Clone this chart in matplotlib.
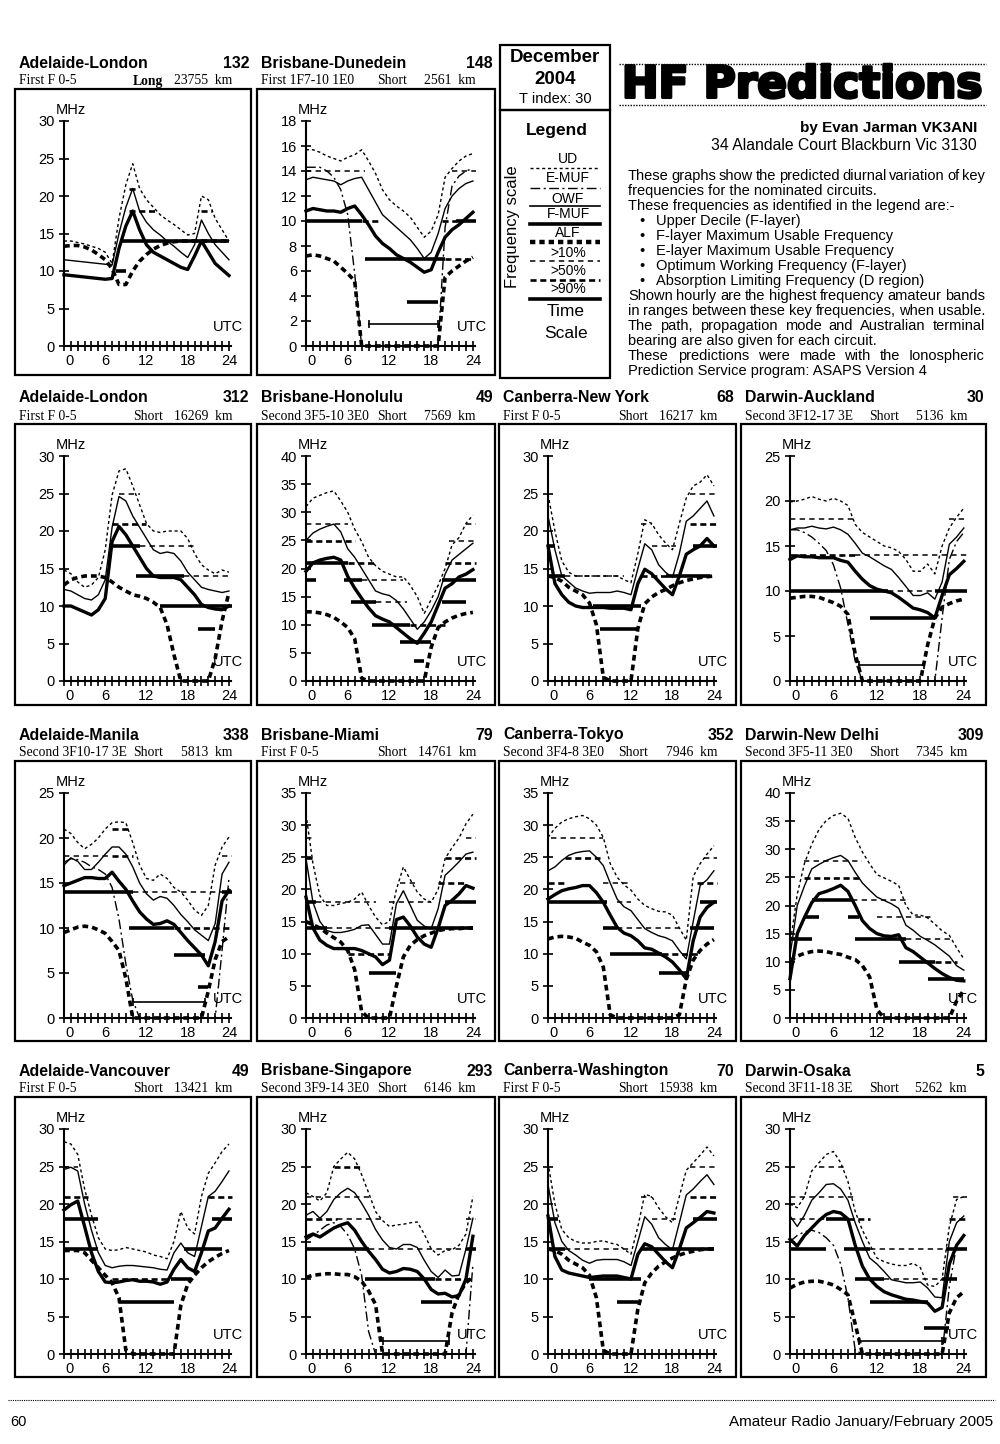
import matplotlib
matplotlib.use('Agg')
import matplotlib.pyplot as plt
from matplotlib.patches import Rectangle
from matplotlib.lines import Line2D
import matplotlib.patheffects as pe

plt.rcParams['font.family'] = ['Liberation Sans', 'DejaVu Sans']

# ---- chart metadata ----
titles = ['Adelaide-London', 'Brisbane-Dunedein', 'Adelaide-London', 'Brisbane-Honolulu',
          'Canberra-New York', 'Darwin-Auckland', 'Adelaide-Manila', 'Brisbane-Miami',
          'Canberra-Tokyo', 'Darwin-New Delhi', 'Adelaide-Vancouver', 'Brisbane-Singapore',
          'Canberra-Washington', 'Darwin-Osaka']
bearings = [132, 148, 312, 49, 68, 30, 338, 79, 352, 309, 49, 293, 70, 5]
modes = ['First F 0-5', 'First 1F7-10 1E0', 'First F 0-5', 'Second 3F5-10 3E0',
         'First F 0-5', 'Second 3F12-17 3E', 'Second 3F10-17 3E', 'First F 0-5',
         'Second 3F4-8 3E0', 'Second 3F5-11 3E0', 'First F 0-5', 'Second 3F9-14 3E0',
         'First F 0-5', 'Second 3F11-18 3E']
paths = ['Long'] + ['Short'] * 13
dists = [23755, 2561, 16269, 7569, 16217, 5136, 5813, 14761, 7946, 7345, 13421, 6146, 15938, 5262]
ymaxes = [30, 18, 30, 40, 30, 25, 25, 35, 35, 40, 30, 30, 30, 30]

hours = list(range(25))

# ---- curves (MHz, hourly 0..24) ----
c1_ud = [14.0,14.0,13.8,13.6,13.3,13.0,12.5,11.0,17.0,21.5,24.3,21.0,19.5,18.5,17.5,16.8,16.2,15.5,14.8,15.0,20.0,19.5,17.0,15.5,14.0]
c1_fmuf = [11.5,11.4,11.3,11.2,11.1,11.0,10.9,10.8,15.0,18.5,21.0,18.0,16.5,15.5,14.8,14.0,13.3,12.5,11.8,13.5,16.8,15.0,13.5,12.5,11.5]
c1_owf = [9.5,9.4,9.3,9.2,9.1,9.0,8.9,9.0,13.0,16.0,18.0,15.5,13.5,12.5,12.0,11.5,11.0,10.5,10.2,12.0,14.0,12.5,11.0,10.2,9.4]
c1_alf = [13.3,13.4,13.4,13.2,12.8,12.2,11.5,10.3,8.2,8.2,10.0,11.3,12.2,12.9,13.4,13.7,13.9,14.0,14.0,14.0,14.0,14.0,14.0,14.0,14.0]
c1_bands = [(14,8.5,24,90),(10,7.5,9,90),(18,9.5,13.5,50),(18,20,21.5,50),(21,9.5,10.5,50)]

c2_ud = [15.7,15.7,15.5,15.2,15.0,14.8,15.1,15.3,15.7,14.8,13.8,12.5,11.7,11.2,10.8,10.3,9.5,8.7,9.2,10.5,13.5,14.2,14.8,15.2,15.4]
c2_emuf = [14.3,14.3,14.3,14.0,13.5,12.5,10.5,5.8,0,0,0,0,0,0,0,0,0,0,0,0,9.5,12.8,13.6,14.0,14.2]
c2_fmuf = [13.3,13.5,13.4,13.3,13.2,12.9,13.2,13.4,13.5,12.5,11.5,10.5,10.0,9.5,9.0,8.5,7.8,7.0,7.5,9.0,11.0,12.0,12.6,13.0,13.2]
c2_owf = [10.8,11.0,10.9,10.8,10.8,10.7,11.0,11.2,10.5,9.7,8.8,8.2,7.8,7.3,7.0,6.7,6.3,5.9,6.1,7.5,8.7,9.3,9.7,10.2,10.7]
c2_alf = [7.2,7.3,7.2,7.0,6.8,6.3,5.8,5.2,0,0,0,0,0,0,0,0,0,0,0,0,5.5,6.0,6.4,6.8,7.1]
c2_bands = [(14,0,8.5,10),(14,21,24.5,10),(10,0,8,90),(10,8,10.5,50),(10,19.5,21.5,50),(10,21.5,24.5,90),
            (7,8.5,20,90),(7,20,24,50),(3.5,14.5,19,90),(1.8,9,19,0)]

c3_ud = [14.8,14.3,13.2,12.5,12.8,13.8,17.5,24.8,28.0,28.3,26.0,23.5,21.0,20.0,19.8,20.0,20.0,20.0,19.0,17.0,15.5,14.8,14.3,14.8,14.5]
c3_fmuf = [12.2,12.0,11.5,11.0,10.8,11.5,13.5,20.5,24.6,24.0,22.0,20.5,19.0,17.5,17.0,17.2,17.0,16.0,14.5,13.5,12.5,12.2,12.0,11.8,12.0]
c3_owf = [10.0,10.0,9.6,9.2,8.8,9.5,11.0,18.6,20.6,19.5,18.0,16.5,15.0,14.0,13.8,13.8,13.8,13.5,12.5,11.5,10.2,9.8,9.6,9.5,10.0]
c3_alf = [12.8,13.5,13.8,14.0,14.0,14.0,13.8,13.2,12.5,12.0,11.5,11.3,11.0,10.5,9.8,7.5,3.5,0,0,0,0,0,3.0,8.0,11.8]
c3_bands = [(24.9,8,11,10),(21,7,12,50),(18,6.5,11,90),(18,11,19,10),(14,10.5,17.5,90),(14,17.5,24.5,10),
            (10,14,24.5,90),(7,19.5,22,90)]

c4_ud = [31.0,32.5,33.0,33.5,33.8,32.0,30.0,27.0,24.8,22.0,20.5,19.5,19.0,18.5,18.5,17.0,15.0,12.0,14.5,17.0,20.0,24.2,25.5,28.0,29.5]
c4_fmuf = [25.0,26.3,27.0,27.5,27.9,26.5,23.5,22.0,20.0,18.0,16.0,15.5,15.2,14.3,12.8,11.0,9.2,10.5,12.5,15.0,19.0,21.5,22.5,23.5,24.5]
c4_owf = [19.5,21.0,21.5,21.8,22.0,21.5,18.6,16.5,14.7,13.0,11.6,11.0,10.5,9.5,8.5,7.5,6.7,8.5,10.5,13.5,16.5,17.3,18.5,19.0,19.8]
c4_alf = [12.3,12.3,12.1,11.8,11.3,10.5,9.5,7.5,0.5,0,0,0,0,0,0,0,0,0,6.0,9.5,10.5,11.2,11.7,12.0,12.2]
c4_bands = [(28,0,6,10),(28,23,24.5,10),(24.9,0,7,50),(24.9,20.5,24.5,10),(21,0,6,90),(21,6,10,50),
            (21,20,24.5,50),(18,0,1.5,90),(18,5.5,8,90),(18,8,14,10),(18,19.5,24.5,90),(14,6.5,10,90),
            (14,10,14.5,10),(14,19.5,23,90),(10,9.5,15,90),(10,15,20,50),(7,13.5,18,90),(3.5,15.5,17,90)]

c5_ud = [24.9,20.0,16.0,14.5,14.0,14.0,14.0,14.0,14.0,14.0,14.0,13.5,13.1,17.0,21.5,21.0,19.5,18.4,17.5,21.0,24.4,26.0,26.5,27.5,26.0]
c5_fmuf = [22.0,17.5,14.0,13.2,12.4,12.0,11.7,11.8,11.8,11.8,12.0,11.8,11.5,15.0,18.3,17.5,15.5,14.5,13.8,17.0,21.3,22.0,23.0,24.0,22.0]
c5_owf = [18.0,13.0,11.5,10.5,10.0,9.8,9.8,9.8,9.8,9.7,9.7,9.7,9.5,13.0,14.9,14.3,13.3,12.3,11.5,14.0,16.9,17.5,18.0,19.0,18.0]
c5_alf = [14.0,13.8,13.3,12.5,12.0,11.5,10.4,7.5,0.5,0,0,0,0,7.0,10.3,11.2,11.8,12.2,12.7,13.1,13.4,13.6,13.8,13.9,14.0]
c5_bands = [(24.9,20.5,24.5,10),(21,20.5,24.5,50),(21,13.5,15,10),(18,0,1,90),(18,15,18.5,10),(18,21,24.5,90),
            (14,0,2.5,90),(14,2.5,11,10),(14,13.5,17,50),(14,17,23.5,90),(10,6.5,13.5,90),(7,7.5,13,90)]

c6_ud = [19.9,20.0,20.2,20.5,20.2,20.0,20.3,20.0,19.5,17.4,16.5,16.0,15.5,15.0,14.8,14.4,13.5,12.2,12.2,13.0,11.9,15.0,17.0,18.2,19.2]
c6_emuf = [16.8,16.8,16.5,16.0,15.3,14.5,12.9,10.3,6.3,2.2,0,0,0,0,0,0,0,0,0,0,0,7.0,13.5,15.5,16.5]
c6_fmuf = [16.8,17.0,17.0,17.2,17.0,16.9,17.1,16.8,16.3,15.3,14.2,13.8,13.3,12.8,12.4,11.5,10.5,9.5,9.5,9.8,9.1,11.0,15.2,16.0,17.0]
c6_owf = [13.5,13.9,13.8,13.8,13.7,13.7,13.7,13.4,13.2,12.2,11.3,10.6,10.2,10.0,9.8,9.3,8.7,8.1,7.9,7.6,7.0,9.5,11.8,12.5,13.3]
c6_alf = [9.2,9.3,9.4,9.4,9.3,9.0,8.7,8.3,7.4,3.0,0,0,0,0,0,0,0,0,0,4.0,7.0,8.2,8.6,8.9,9.1]
c6_bands = [(18,0,9,10),(18,22,24.5,10),(14,0,9,50),(14,9,24.5,10),(10,0,13.5,90),(10,13.5,20,10),
            (10,20,24.5,90),(7,11,20,90),(1.8,9.5,18.5,0)]

c7_ud = [21.0,20.5,19.5,18.8,19.3,20.0,21.0,21.7,21.8,21.7,19.5,17.0,15.5,15.3,16.0,15.5,14.5,14.0,13.1,12.0,11.4,12.5,17.0,19.0,20.1]
c7_emuf = [17.3,17.7,17.6,17.3,16.8,16.5,16.0,14.5,11.0,6.0,2.0,0,0,0,0,0,0,0,0,0,0,0,0,7.5,15.5]
c7_fmuf = [17.0,17.8,17.4,16.5,16.5,17.3,18.2,19.0,19.0,18.2,16.8,15.0,13.8,13.1,13.5,13.3,12.5,11.5,10.7,9.8,9.2,8.6,10.5,16.0,17.3]
c7_owf = [14.7,15.0,15.3,15.6,15.6,15.5,15.5,16.2,15.2,14.3,13.0,11.8,11.0,10.4,10.5,10.8,10.4,9.5,8.6,7.8,7.0,5.8,8.5,13.0,14.2]
c7_alf = [9.5,9.8,10.1,10.2,10.1,9.8,9.4,8.5,7.5,4.4,0,0,0,0,0,0,0,0,0,0,0,3.0,6.5,8.5,9.0]
c7_bands = [(21,7,9.5,50),(18,0,7,10),(18,7,10,50),(18,23,24.5,10),(14,0,10,90),(14,10,23,10),(14,23,24.5,90),
            (10,9.5,16,90),(10,16,24.5,50),(7,16,20.5,90),(3.5,19.5,21,90),(1.8,10,20.5,0)]

c8_ud = [31.7,24.0,19.0,17.5,17.5,17.8,18.0,18.5,19.6,17.5,15.7,14.5,15.0,20.0,23.5,21.5,19.6,18.5,18.0,20.0,24.8,26.5,28.0,30.2,31.7]
c8_fmuf = [24.8,18.0,15.0,13.6,13.3,13.3,13.5,13.8,14.4,14.5,13.0,11.5,11.5,17.8,19.8,17.5,15.2,14.3,13.9,17.0,22.2,23.2,24.3,25.5,25.8]
c8_owf = [18.8,14.0,12.1,11.3,10.8,10.8,10.8,10.8,10.5,10.0,9.5,8.3,9.0,15.3,15.7,14.3,12.6,11.5,11.0,14.0,17.5,18.3,19.3,20.6,20.2]
c8_alf = [15.0,14.5,14.0,13.2,12.5,11.8,10.5,7.5,1.0,0,0,0,0,5.0,9.5,11.3,12.2,12.8,13.2,13.6,13.8,13.9,13.9,14.0,14.0]
c8_bands = [(28,0,1,10),(28,23,24.5,10),(24.9,0,1,50),(24.9,20,24.5,50),(21,19,23,50),(21,13.5,16,10),
            (18,0,1.5,90),(18,1.5,10,10),(18,12,18,10),(18,20,24.5,90),(14,0,3,90),(14,3,12,10),
            (14,12,24,90),(10,6,12,50),(7,9,13,90)]

c9_ud = [28.1,29.5,30.5,31.0,31.3,31.5,31.0,30.0,28.1,24.0,21.9,20.7,19.9,18.5,17.5,17.0,16.6,16.5,16.0,14.0,12.1,22.0,24.0,25.5,26.8]
c9_fmuf = [22.9,23.5,24.5,25.3,25.7,25.9,26.0,25.0,23.7,21.0,18.5,17.3,16.7,15.3,13.9,13.3,12.8,12.5,12.0,10.5,9.2,15.0,20.6,21.5,22.9]
c9_owf = [18.5,19.2,19.8,20.1,20.3,20.6,20.6,19.5,18.0,16.0,14.1,13.2,12.8,12.0,10.9,10.7,10.1,9.5,8.7,7.5,6.1,12.0,15.7,17.2,18.0]
c9_alf = [12.3,12.6,12.7,12.6,12.4,11.8,11.3,10.3,7.9,0.5,0,0,0,0,0,0,0,0,0,0.5,6.0,9.0,10.5,11.5,12.2]
c9_bands = [(28,0.5,8,10),(24.9,2.5,7.5,50),(24.9,22.5,24.5,10),(21,0,2.5,50),(21,8,12,10),(21,21.5,24.5,50),
            (18,0,8.5,90),(18,10,12,10),(18,22,24.5,90),(14,8,10,90),(14,10,19,10),(14,20.5,24,90),
            (10,9,16.5,90),(10,16.5,22,50),(7,16,20,90)]

c10_ud = [12.9,22.0,27.5,30.9,33.5,35.1,36.0,36.4,35.5,32.1,29.5,27.4,25.5,24.9,24.3,23.6,20.0,18.3,18.3,17.8,16.7,15.5,14.7,12.5,10.5]
c10_fmuf = [11.0,20.0,23.5,26.5,27.3,28.0,28.5,28.9,28.0,25.9,24.0,22.7,21.5,20.9,20.3,19.5,16.5,15.6,14.5,13.8,13.0,12.0,11.0,9.3,8.5]
c10_owf = [7.0,15.0,17.9,20.5,22.1,22.5,23.0,23.6,22.5,20.0,17.3,15.9,15.0,14.6,14.5,14.8,12.5,11.8,10.8,9.8,8.8,7.9,7.2,6.7,6.6]
c10_alf = [10.2,11.0,11.5,11.8,11.9,11.8,11.5,11.3,10.8,10.4,9.3,7.3,1.5,0,0,0,0,0,0,0,0,0,0,3.0,5.0]
c10_bands = [(28,2,10,10),(24.9,2,10,50),(21,3,8.5,90),(21,8.5,16,10),(18,2,4,90),(18,8,9.5,90),(18,12,19.5,10),
             (14,0,3,90),(14,9,16,90),(14,16,22.5,10),(10,15,20,90),(10,20,23,50),(7,19,24,90)]

c11_ud = [28.3,28.0,26.6,22.0,18.5,15.5,14.0,13.8,13.9,14.2,14.0,13.8,13.6,13.2,13.0,12.7,15.0,19.0,16.8,16.0,21.0,24.1,25.5,27.0,28.0]
c11_fmuf = [24.6,24.9,24.4,20.0,16.5,13.5,11.8,11.5,11.7,11.8,11.8,11.7,11.6,11.5,11.3,11.2,13.5,14.8,13.5,13.0,17.0,21.0,21.7,23.0,24.4]
c11_owf = [19.2,19.9,20.4,17.0,13.5,11.0,9.6,9.5,9.6,9.8,9.9,9.7,9.7,9.6,9.3,9.6,11.3,12.6,11.5,11.0,13.5,16.4,16.8,18.1,19.3]
c11_alf = [13.8,13.8,13.8,13.5,12.5,11.5,10.5,9.5,7.5,0.5,0,0,0,0,0,0,0,6.5,9.3,10.5,11.5,12.3,12.9,13.4,13.8]
c11_bands = [(24.9,0,2,10),(21,0,3.5,50),(21,21,24.5,50),(18,0,5,90),(18,21.5,24.5,90),(14,0,5,90),
             (14,17.5,23,90),(10,7,15.5,50),(10,15.5,18.5,90),(7,8,16,90)]

c12_ud = [21.5,21.0,20.4,21.5,25.0,26.0,26.9,26.0,23.9,21.5,19.0,17.8,17.0,17.2,17.3,17.5,17.6,16.0,14.0,13.2,13.8,13.9,14.5,16.0,21.0]
c12_emuf = [15.2,15.8,16.5,17.2,17.5,17.0,15.9,14.0,10.5,3.0,0,0,0,0,0,0,0,0,0,0,0,0,0,0,12.0]
c12_fmuf = [18.5,19.0,18.1,19.0,20.6,21.5,22.1,21.5,20.1,18.5,16.6,15.2,14.2,14.0,14.6,14.6,14.2,12.5,11.0,10.2,11.2,10.4,10.5,14.0,18.1]
c12_owf = [15.6,16.0,15.6,16.2,16.8,17.2,17.5,16.5,15.0,13.7,12.6,11.3,10.8,11.0,11.4,11.3,11.0,10.0,8.6,8.0,8.1,7.6,7.8,10.0,15.7]
c12_alf = [10.2,10.5,10.6,10.7,10.7,10.6,10.6,10.3,9.7,8.4,6.6,0,0,0,0,0,0,0,0,0,0,5.5,8.0,9.5,10.3]
c12_bands = [(24.9,4,8,50),(21,0,9.5,10),(18,0,4.5,50),(18,4.5,11,10),(18,23,24.5,10),(14,0,9,90),
             (14,9,23,10),(14,23,24.5,90),(10,8.5,18.5,90),(10,18.5,24,50),(7,16.5,21,90),(1.8,11,20.5,0)]

c13_ud = [25.5,20.0,16.6,15.5,15.0,14.8,14.8,15.0,15.1,14.8,14.6,14.0,13.3,17.0,21.3,21.0,19.5,18.3,17.5,21.0,24.5,25.5,26.5,27.6,26.4]
c13_fmuf = [22.6,17.5,15.0,13.8,13.2,12.5,12.1,12.5,12.6,12.6,12.6,12.3,11.8,15.0,18.3,17.3,15.5,14.6,13.9,17.5,21.2,22.0,23.0,23.9,22.6]
c13_owf = [18.4,13.0,11.2,10.8,10.6,10.4,10.2,10.3,10.4,10.4,10.4,10.2,10.0,13.3,14.7,14.3,13.3,12.3,11.5,14.0,16.8,17.5,18.2,19.0,18.8]
c13_alf = [14.0,13.8,13.3,12.5,12.0,11.5,10.5,7.5,0.5,0,0,0,0,6.0,9.5,10.8,11.7,12.3,12.8,13.2,13.5,13.7,13.9,14.0,14.0]
c13_bands = [(24.9,20.5,24.5,10),(21,20.5,24.5,50),(21,13.5,15,10),(18,0,1.5,90),(18,15,18.5,10),(18,21,24.5,90),
             (14,0,2.5,90),(14,2.5,12,10),(14,13.5,24,90),(10,6,13.5,90),(7,10,13,90)]

c14_ud = [20.0,19.5,21.0,24.4,25.5,26.6,27.0,25.5,23.0,19.0,16.5,14.6,12.8,12.3,12.0,11.8,11.8,12.1,11.5,9.2,9.0,10.0,17.0,20.6,21.0]
c14_emuf = [15.0,15.8,16.3,16.5,16.2,15.5,14.5,12.0,7.5,0.5,0,0,0,0,0,0,0,0,0,0,0,0,9.0,14.5,15.5]
c14_fmuf = [18.4,17.0,18.5,20.5,21.5,22.6,22.7,22.0,20.5,17.5,15.0,12.8,12.0,11.0,9.9,9.7,9.5,9.5,9.6,8.8,7.6,7.5,15.0,17.5,18.4]
c14_owf = [15.3,14.4,15.8,16.8,17.8,18.6,19.0,18.8,18.0,14.5,11.7,10.0,9.0,8.3,7.9,7.6,7.3,7.2,7.0,6.8,5.7,6.2,12.0,14.5,15.8]
c14_alf = [8.8,9.3,9.6,9.7,9.7,9.5,9.2,8.6,7.9,4.0,0,0,0,0,0,0,0,0,0,0,0,0,5.5,7.5,8.3]
c14_bands = [(24.9,4,7.5,10),(21,0,9,10),(21,22.5,24.5,10),(18,0,5,10),(18,5,8,90),(18,8,11,50),(18,22,24.5,50),
             (14,0,5,90),(14,7.5,11,90),(14,11,22,10),(14,21.5,24.5,90),(10,9,13,90),(10,13,21,10),
             (10,21,23,90),(7,11,19,90),(3.5,18.5,22,90),(1.8,9.5,21,0)]

# (ud, emuf, fmuf, owf, alf, bands)
series = [
    (c1_ud, None, c1_fmuf, c1_owf, c1_alf, c1_bands),
    (c2_ud, c2_emuf, c2_fmuf, c2_owf, c2_alf, c2_bands),
    (c3_ud, None, c3_fmuf, c3_owf, c3_alf, c3_bands),
    (c4_ud, None, c4_fmuf, c4_owf, c4_alf, c4_bands),
    (c5_ud, None, c5_fmuf, c5_owf, c5_alf, c5_bands),
    (c6_ud, c6_emuf, c6_fmuf, c6_owf, c6_alf, c6_bands),
    (c7_ud, c7_emuf, c7_fmuf, c7_owf, c7_alf, c7_bands),
    (c8_ud, None, c8_fmuf, c8_owf, c8_alf, c8_bands),
    (c9_ud, None, c9_fmuf, c9_owf, c9_alf, c9_bands),
    (c10_ud, None, c10_fmuf, c10_owf, c10_alf, c10_bands),
    (c11_ud, None, c11_fmuf, c11_owf, c11_alf, c11_bands),
    (c12_ud, c12_emuf, c12_fmuf, c12_owf, c12_alf, c12_bands),
    (c13_ud, None, c13_fmuf, c13_owf, c13_alf, c13_bands),
    (c14_ud, c14_emuf, c14_fmuf, c14_owf, c14_alf, c14_bands),
]

# ---- page layout (pixels) ----
W, H = 1000, 1444
col_x = [(15, 251), (257, 495), (499, 736), (741, 986)]
row_y = [(89, 375), (424, 705), (761, 1041), (1097, 1377)]
short_off = [118, 120, 119, 128]
slots = [(0, 0), (0, 1)] + [(r, c) for r in (1, 2, 3) for c in range(4)]

UD_LS = (0, (2.2, 2.0))
EMUF_LS = (0, (7, 2.5, 1.5, 2.5))
ALF_LS = (0, (1.6, 1.1))
P10_LS = (0, (3.5, 2.8))
P50_LS = (0, (2.3, 1.4))
SERIF = 'Liberation Serif'


def fx(x):
    return x / W


def fy(y):
    return 1 - y / H


def box(fig, x0, y0, x1, y1, lw=1.6):
    fig.add_artist(Rectangle((fx(x0), fy(y1)), (x1 - x0) / W, (y1 - y0) / H,
                             transform=fig.transFigure, fill=False, lw=lw, ec='black'))


def hline(fig, x0, x1, y, **kw):
    fig.add_artist(Line2D([fx(x0), fx(x1)], [fy(y), fy(y)], transform=fig.transFigure,
                          color='black', **kw))


def draw_band(ax, f, t0, t1, lev):
    if lev == 90:
        ax.plot([t0, t1], [f, f], color='k', lw=2.6, solid_capstyle='butt', clip_on=False)
    elif lev == 50:
        ax.plot([t0, t1], [f, f], color='k', lw=1.9, ls=P50_LS, clip_on=False)
    elif lev == 10:
        ax.plot([t0, t1], [f, f], color='k', lw=1.1, ls=P10_LS, clip_on=False)
    else:
        ax.plot([t0, t1], [f, f], color='k', lw=1.2, marker='|', ms=6, mew=1.2, clip_on=False)


fig = plt.figure(figsize=(W / 100, H / 100), dpi=100)

for i, (r, c) in enumerate(slots):
    bx0, bx1 = col_x[c]
    by0, by1 = row_y[r]
    bw = bx1 - bx0
    ud, emuf, fmuf, owf, alf, bands = series[i]
    ymax = ymaxes[i]

    box(fig, bx0, by0, bx1, by1)
    fig.text(fx(bx0 + 4), fy(by0 - 21.5), titles[i], fontsize=11.4, fontweight='bold',
             ha='left', va='baseline')
    fig.text(fx(bx1 - 2), fy(by0 - 21.5), str(bearings[i]), fontsize=11.4, fontweight='bold',
             ha='right', va='baseline')
    fig.text(fx(bx0 + 4), fy(by0 - 4.5), modes[i], fontsize=9.8, family=SERIF,
             ha='left', va='baseline')
    fig.text(fx(bx0 + short_off[c]), fy(by0 - 4.5), paths[i], fontsize=9.8, family=SERIF,
             ha='left', va='baseline', fontweight='bold' if paths[i] == 'Long' else 'normal')
    fig.text(fx(bx1 - 19), fy(by0 - 4.5), f'{dists[i]}  km', fontsize=9.8, family=SERIF,
             ha='right', va='baseline')

    ax = fig.add_axes([fx(bx0 + 49), fy(by0 + 257), (bw - 69) / W, 225 / H])
    ax.set_facecolor('none')
    ax.set_xlim(0, 24.3)
    ax.set_ylim(0, ymax)
    for s in ('top', 'right'):
        ax.spines[s].set_visible(False)
    for s in ('left', 'bottom'):
        ax.spines[s].set_linewidth(1.5)
    step = 2 if ymax == 18 else 5
    ax.set_yticks(range(0, ymax + 1, step))
    ax.set_xticks(hours)
    ax.set_xticklabels([])
    ax.tick_params(axis='both', direction='inout', length=7, width=1.2, labelsize=10.5, pad=3)
    for h in (0, 6, 12, 18, 24):
        ax.annotate(str(h), xy=(h, 0), xycoords=('data', 'axes fraction'),
                    xytext=(4 if h == 0 else 0, -6), textcoords='offset points',
                    ha='center', va='top', fontsize=10.5)
    ax.annotate('MHz', xy=(0, 1), xycoords='axes fraction', xytext=(-6, 3),
                textcoords='offset points', ha='left', va='bottom', fontsize=10.5)

    for b in bands:
        draw_band(ax, *b)
    ax.plot(hours, ud, color='k', lw=1.0, ls=UD_LS, clip_on=False)
    if emuf is not None:
        ax.plot(hours, emuf, color='k', lw=1.0, ls=EMUF_LS, clip_on=False)
    ax.plot(hours, fmuf, color='k', lw=1.0, clip_on=False)
    ax.plot(hours, owf, color='k', lw=2.4, clip_on=False)
    ax.plot(hours, alf, color='k', lw=2.6, ls=ALF_LS, clip_on=False)

    fig.text(fx(bx1 - 8), fy(by0 + 238), 'UTC', fontsize=10.5, ha='right', va='center')

# ---- date / legend panel ----
box(fig, 500, 45, 610, 110)
box(fig, 500, 110, 610, 378)
fig.text(fx(555), fy(58), 'December', fontsize=13.5, fontweight='bold', ha='center', va='center')
fig.text(fx(555), fy(79), '2004', fontsize=13.5, fontweight='bold', ha='center', va='center')
fig.text(fx(555), fy(99), 'T index: 30', fontsize=10.5, ha='center', va='center')
fig.text(fx(557), fy(130), 'Legend', fontsize=12.5, fontweight='bold', ha='center', va='center')
fig.text(fx(513), fy(227), 'Frequency scale', fontsize=12, rotation=90, ha='center', va='center')

legend_labels = ['UD', 'E-MUF', 'OWF', 'F-MUF', 'ALF', '>10%', '>50%', '>90%']
legend_label_y = [159, 178, 199, 214, 233, 253, 271, 289]
legend_line_y = [168, 188, 206, 224, 242, 261, 280, 299]
legend_styles = [dict(lw=1.0, ls=UD_LS), dict(lw=1.0, ls=EMUF_LS), dict(lw=1.2),
                 dict(lw=2.6), dict(lw=3.2, ls=(0, (1.2, 0.9))), dict(lw=1.1, ls=P10_LS),
                 dict(lw=1.9, ls=P50_LS), dict(lw=2.6)]
for lab, ly, lny, st in zip(legend_labels, legend_label_y, legend_line_y, legend_styles):
    fig.text(fx(568), fy(ly), lab, fontsize=10, ha='center', va='center')
    hline(fig, 530, 600, lny, **st)
fig.text(fx(566), fy(312), 'Time', fontsize=12.5, ha='center', va='center')
fig.text(fx(566), fy(333), 'Scale', fontsize=12.5, ha='center', va='center')

# ---- header text ----
hline(fig, 619, 986, 64, lw=1.0, ls=(0, (1, 1)))
hline(fig, 619, 986, 105, lw=1.0, ls=(0, (1, 1)))
fig.text(fx(802), fy(85), 'HF Predictions', fontsize=31.5, fontweight='bold', family='DejaVu Sans',
         ha='center', va='center',
         path_effects=[pe.withStroke(linewidth=2.2, foreground='black')])
fig.text(fx(977), fy(128), 'by Evan Jarman VK3ANI', fontsize=11, fontweight='bold',
         ha='right', va='center')
fig.text(fx(977), fy(145), '34 Alandale Court Blackburn Vic 3130', fontsize=11.3,
         ha='right', va='center')

para = [
    ('These graphs show the predicted diurnal variation of key', 'j'),
    ('frequencies for the nominated circuits.', 'l'),
    ('These frequencies as identified in the legend are:-', 'l'),
    ('Upper Decile (F-layer)', 'b'),
    ('F-layer Maximum Usable Frequency', 'b'),
    ('E-layer Maximum Usable Frequency', 'b'),
    ('Optimum Working Frequency (F-layer)', 'b'),
    ('Absorption Limiting Frequency (D region)', 'b'),
    ('Shown hourly are the highest frequency amateur bands', 'j'),
    ('in ranges between these key frequencies, when usable.', 'j'),
    ('The path, propagation mode and Australian terminal', 'j'),
    ('bearing are also given for each circuit.', 'l'),
    ('These predictions were made with the Ionospheric', 'j'),
    ('Prediction Service program: ASAPS Version 4', 'l'),
]
PARA_FS = 10.5
renderer = fig.canvas.get_renderer()
for k, (line, kind) in enumerate(para):
    y = 176 + k * 15.0
    if kind == 'b':
        fig.text(fx(642), fy(y), '•', fontsize=PARA_FS, ha='center', va='center')
        fig.text(fx(656), fy(y), line, fontsize=PARA_FS, ha='left', va='center')
    elif kind == 'l':
        fig.text(fx(628), fy(y), line, fontsize=PARA_FS, ha='left', va='center')
    else:
        # justified line: spread the words between the two margins
        words = line.split()
        arts = [fig.text(0, fy(y), w, fontsize=PARA_FS, ha='left', va='center') for w in words]
        widths = [a.get_window_extent(renderer).width for a in arts]
        gap = (985 - 628 - sum(widths)) / (len(words) - 1)
        x = 628
        for a, w in zip(arts, widths):
            a.set_x(fx(x))
            x += w + gap

# ---- footer ----
hline(fig, 8, 995, 1400, lw=0.8, ls=(0, (1, 1)))
fig.text(fx(10), fy(1422), '60', fontsize=10.5, ha='left', va='center',
         family=['Liberation Sans Narrow', 'Liberation Sans'])
fig.text(fx(993), fy(1422), 'Amateur Radio January/February 2005', fontsize=11, ha='right', va='center',
         family=['Liberation Sans Narrow', 'Liberation Sans'])

fig.savefig('out.png', dpi=100)
